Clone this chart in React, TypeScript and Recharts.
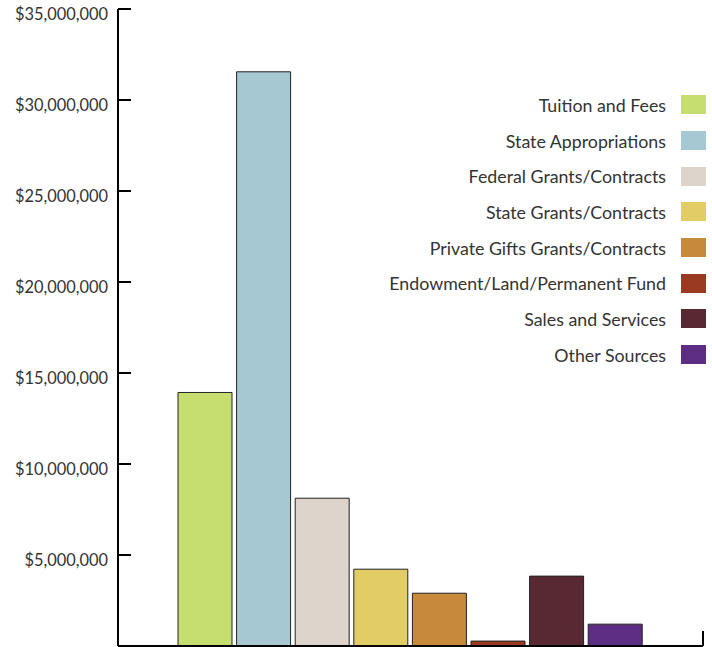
import React from 'react'
import { BarChart, Bar, XAxis, YAxis, usePlotArea } from 'recharts'

const sources = [
  'Tuition and Fees',
  'State Appropriations',
  'Federal Grants/Contracts',
  'State Grants/Contracts',
  'Private Gifts Grants/Contracts',
  'Endowment/Land/Permanent Fund',
  'Sales and Services',
  'Other Sources',
]
const amounts = [13930000, 31550000, 8120000, 4220000, 2900000, 270000, 3840000, 1200000]
const colors = ['#c6dd6f', '#a5c8d3', '#dcd3ca', '#e1cc65', '#c7893a', '#9b3a22', '#582932', '#5c2d82']
const yTicks = [5000000, 10000000, 15000000, 20000000, 25000000, 30000000, 35000000]

const row: Record<string, any> = { name: 'revenue' }
sources.forEach((s, i) => {
  row[`s${i}`] = amounts[i]
})
const data = [row]

const font = 'Lato, "Open Sans", sans-serif'

const money = (v: number) => '$' + v.toLocaleString('en-US')

function YTick(props: any) {
  const { x, y, payload } = props
  return (
    <g>
      <line x1={x} y1={y} x2={x + 13} y2={y} stroke="#000" strokeWidth={2} />
      <text x={x - 10} y={y + 5} dy="0.35em" textAnchor="end" fill="#333" fontSize={16.4} fontFamily={font}>
        {money(payload.value)}
      </text>
    </g>
  )
}

function EndTick() {
  const area = usePlotArea()
  if (!area) return null
  const x = area.x + area.width
  const y = area.y + area.height
  return <line x1={x} y1={y} x2={x} y2={y - 15} stroke="#000" strokeWidth={2} />
}

export default function App() {
  return (
    <div style={{ position: 'absolute', left: 0, top: 0, width: 712, height: 647 }}>
      <BarChart
        width={712}
        height={647}
        data={data}
        margin={{ top: 9, right: 9, bottom: 0, left: 0 }}
        barSize={54}
        barGap={4.6}
      >
        <XAxis dataKey="name" tick={false} tickLine={false} height={1} axisLine={{ stroke: '#000', strokeWidth: 2 }} />
        <YAxis
          width={118}
          domain={[0, 35000000]}
          ticks={yTicks}
          interval={0}
          tickLine={false}
          tickSize={0}
          tickMargin={0}
          tick={<YTick />}
          axisLine={{ stroke: '#000', strokeWidth: 2 }}
        />
        {sources.map((s, i) => (
          <Bar
            key={s}
            dataKey={`s${i}`}
            name={s}
            fill={colors[i]}
            stroke="#222"
            strokeWidth={1}
            isAnimationActive={false}
          />
        ))}
        <EndTick />
      </BarChart>
      <div style={{ position: 'absolute', top: 87, right: 6, fontFamily: font, fontSize: 17.8, color: '#333' }}>
        {sources.map((s, i) => (
          <div key={s} style={{ display: 'flex', alignItems: 'center', justifyContent: 'flex-end', height: 35.7 }}>
            <span style={{ marginRight: 15 }}>{s}</span>
            <span style={{ width: 25, height: 19, background: colors[i], display: 'inline-block' }} />
          </div>
        ))}
      </div>
    </div>
  )
}
